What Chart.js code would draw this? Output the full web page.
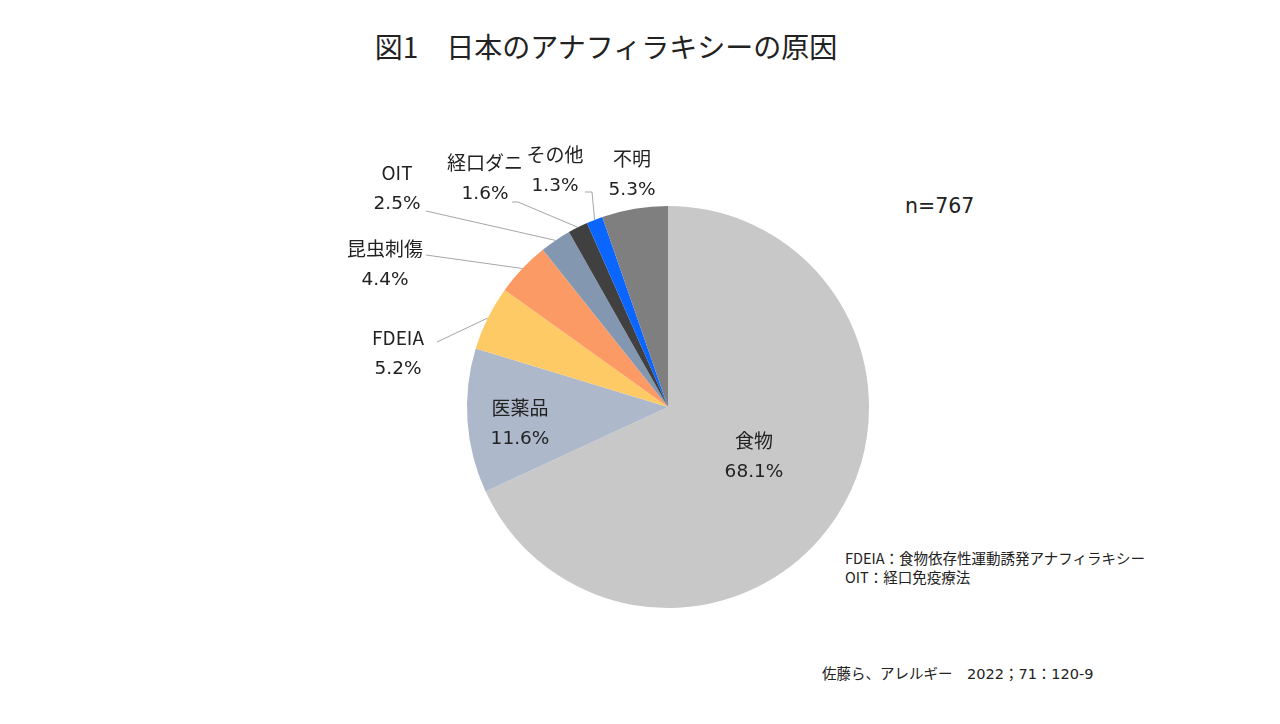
<!DOCTYPE html>
<html lang="ja">
<head>
    <meta charset="UTF-8">
    <title>日本のアナフィラキシーの原因</title>
    <script src="https://cdn.jsdelivr.net/npm/chart.js@4/dist/chart.umd.min.js"></script>
    <style>
        html, body { margin: 0; padding: 0; background: #fff; }
        body { width: 1280px; height: 724px; position: relative; overflow: hidden;
               font-family: "DejaVu Sans", "Noto Sans CJK JP", sans-serif; color: #222; }
        #wrap { position: absolute; left: 0; top: 0; width: 1280px; height: 724px; }
        .txt { position: absolute; white-space: nowrap; }
        #title { left: 0; width: 1212px; top: 26px; text-align: center; font-size: 28px;
                 font-family: "Noto Sans CJK JP", sans-serif; }
        #n { left: 905px; top: 194px; font-size: 20.5px; }
        #notes { left: 845px; top: 548px; font-size: 14.5px; line-height: 19px;
                 font-family: "Noto Sans CJK JP", sans-serif; }
        #src { left: 822px; top: 662px; font-size: 14.5px; }
    </style>
</head>
<body>
    <div id="title" class="txt">図1　日本のアナフィラキシーの原因</div>
    <div id="n" class="txt">n=767</div>
    <div id="notes" class="txt">FDEIA：食物依存性運動誘発アナフィラキシー<br>OIT：経口免疫療法</div>
    <div id="src" class="txt">佐藤ら、アレルギー　2022；71：120-9</div>
    <div id="wrap"><canvas id="pieChart"></canvas></div>
    <script>
        // data (percent of n=767), clockwise from 12 o'clock
        const causes = ['食物', '医薬品', 'FDEIA', '昆虫刺傷', 'OIT', '経口ダニ', 'その他', '不明'];
        const shares = [68.1, 11.6, 5.2, 4.4, 2.5, 1.6, 1.3, 5.3];
        const colors = ['#C8C8C8', '#ADB9CA', '#FECA66', '#FC9A66', '#8497B0', '#404040', '#0A66FF', '#7F7F7F'];

        // where each label sits and the leader line start (text side)
        const labelLayout = [
            { x: 754, y: 441 },
            { x: 520, y: 408 },
            { x: 398, y: 338, lead: [[437, 342]] },
            { x: 385, y: 249, lead: [[426, 255]] },
            { x: 397, y: 173, lead: [[426, 211]] },
            { x: 485, y: 163, lead: [[512, 202], [518, 202]] },
            { x: 555, y: 155, lead: [[585, 192], [592, 192]] },
            { x: 632, y: 159 }
        ];

        const labelPlugin = {
            id: 'sliceLabels',
            afterDraw(chart) {
                const ctx = chart.ctx;
                const arcs = chart.getDatasetMeta(0).data;
                ctx.save();
                // leader lines
                ctx.strokeStyle = '#A6A6A6';
                ctx.lineWidth = 1;
                arcs.forEach((arc, i) => {
                    const lay = labelLayout[i];
                    if (!lay.lead) return;
                    const mid = (arc.startAngle + arc.endAngle) / 2;
                    const ex = arc.x + Math.cos(mid) * arc.outerRadius;
                    const ey = arc.y + Math.sin(mid) * arc.outerRadius;
                    ctx.beginPath();
                    ctx.moveTo(lay.lead[0][0], lay.lead[0][1]);
                    for (let k = 1; k < lay.lead.length; k++) ctx.lineTo(lay.lead[k][0], lay.lead[k][1]);
                    ctx.lineTo(ex, ey);
                    ctx.stroke();
                });
                // texts
                ctx.fillStyle = '#222';
                ctx.textAlign = 'center';
                ctx.textBaseline = 'middle';
                arcs.forEach((arc, i) => {
                    const lay = labelLayout[i];
                    ctx.font = '19px "Noto Sans CJK JP", sans-serif';
                    ctx.fillText(causes[i], lay.x, lay.y);
                    ctx.font = '18.5px "DejaVu Sans", sans-serif';
                    ctx.fillText(shares[i].toFixed(1) + '%', lay.x, lay.y + 31);
                });
                ctx.restore();
            }
        };

        new Chart(document.getElementById('pieChart'), {
            type: 'pie',
            data: {
                labels: causes,
                datasets: [{
                    data: shares,
                    backgroundColor: colors,
                    borderWidth: 0
                }]
            },
            options: {
                responsive: true,
                maintainAspectRatio: false,
                animation: false,
                layout: { padding: { left: 467, right: 411, top: 206, bottom: 116 } },
                plugins: {
                    legend: { display: false },
                    tooltip: { enabled: false }
                }
            },
            plugins: [labelPlugin]
        });
    </script>
</body>
</html>
